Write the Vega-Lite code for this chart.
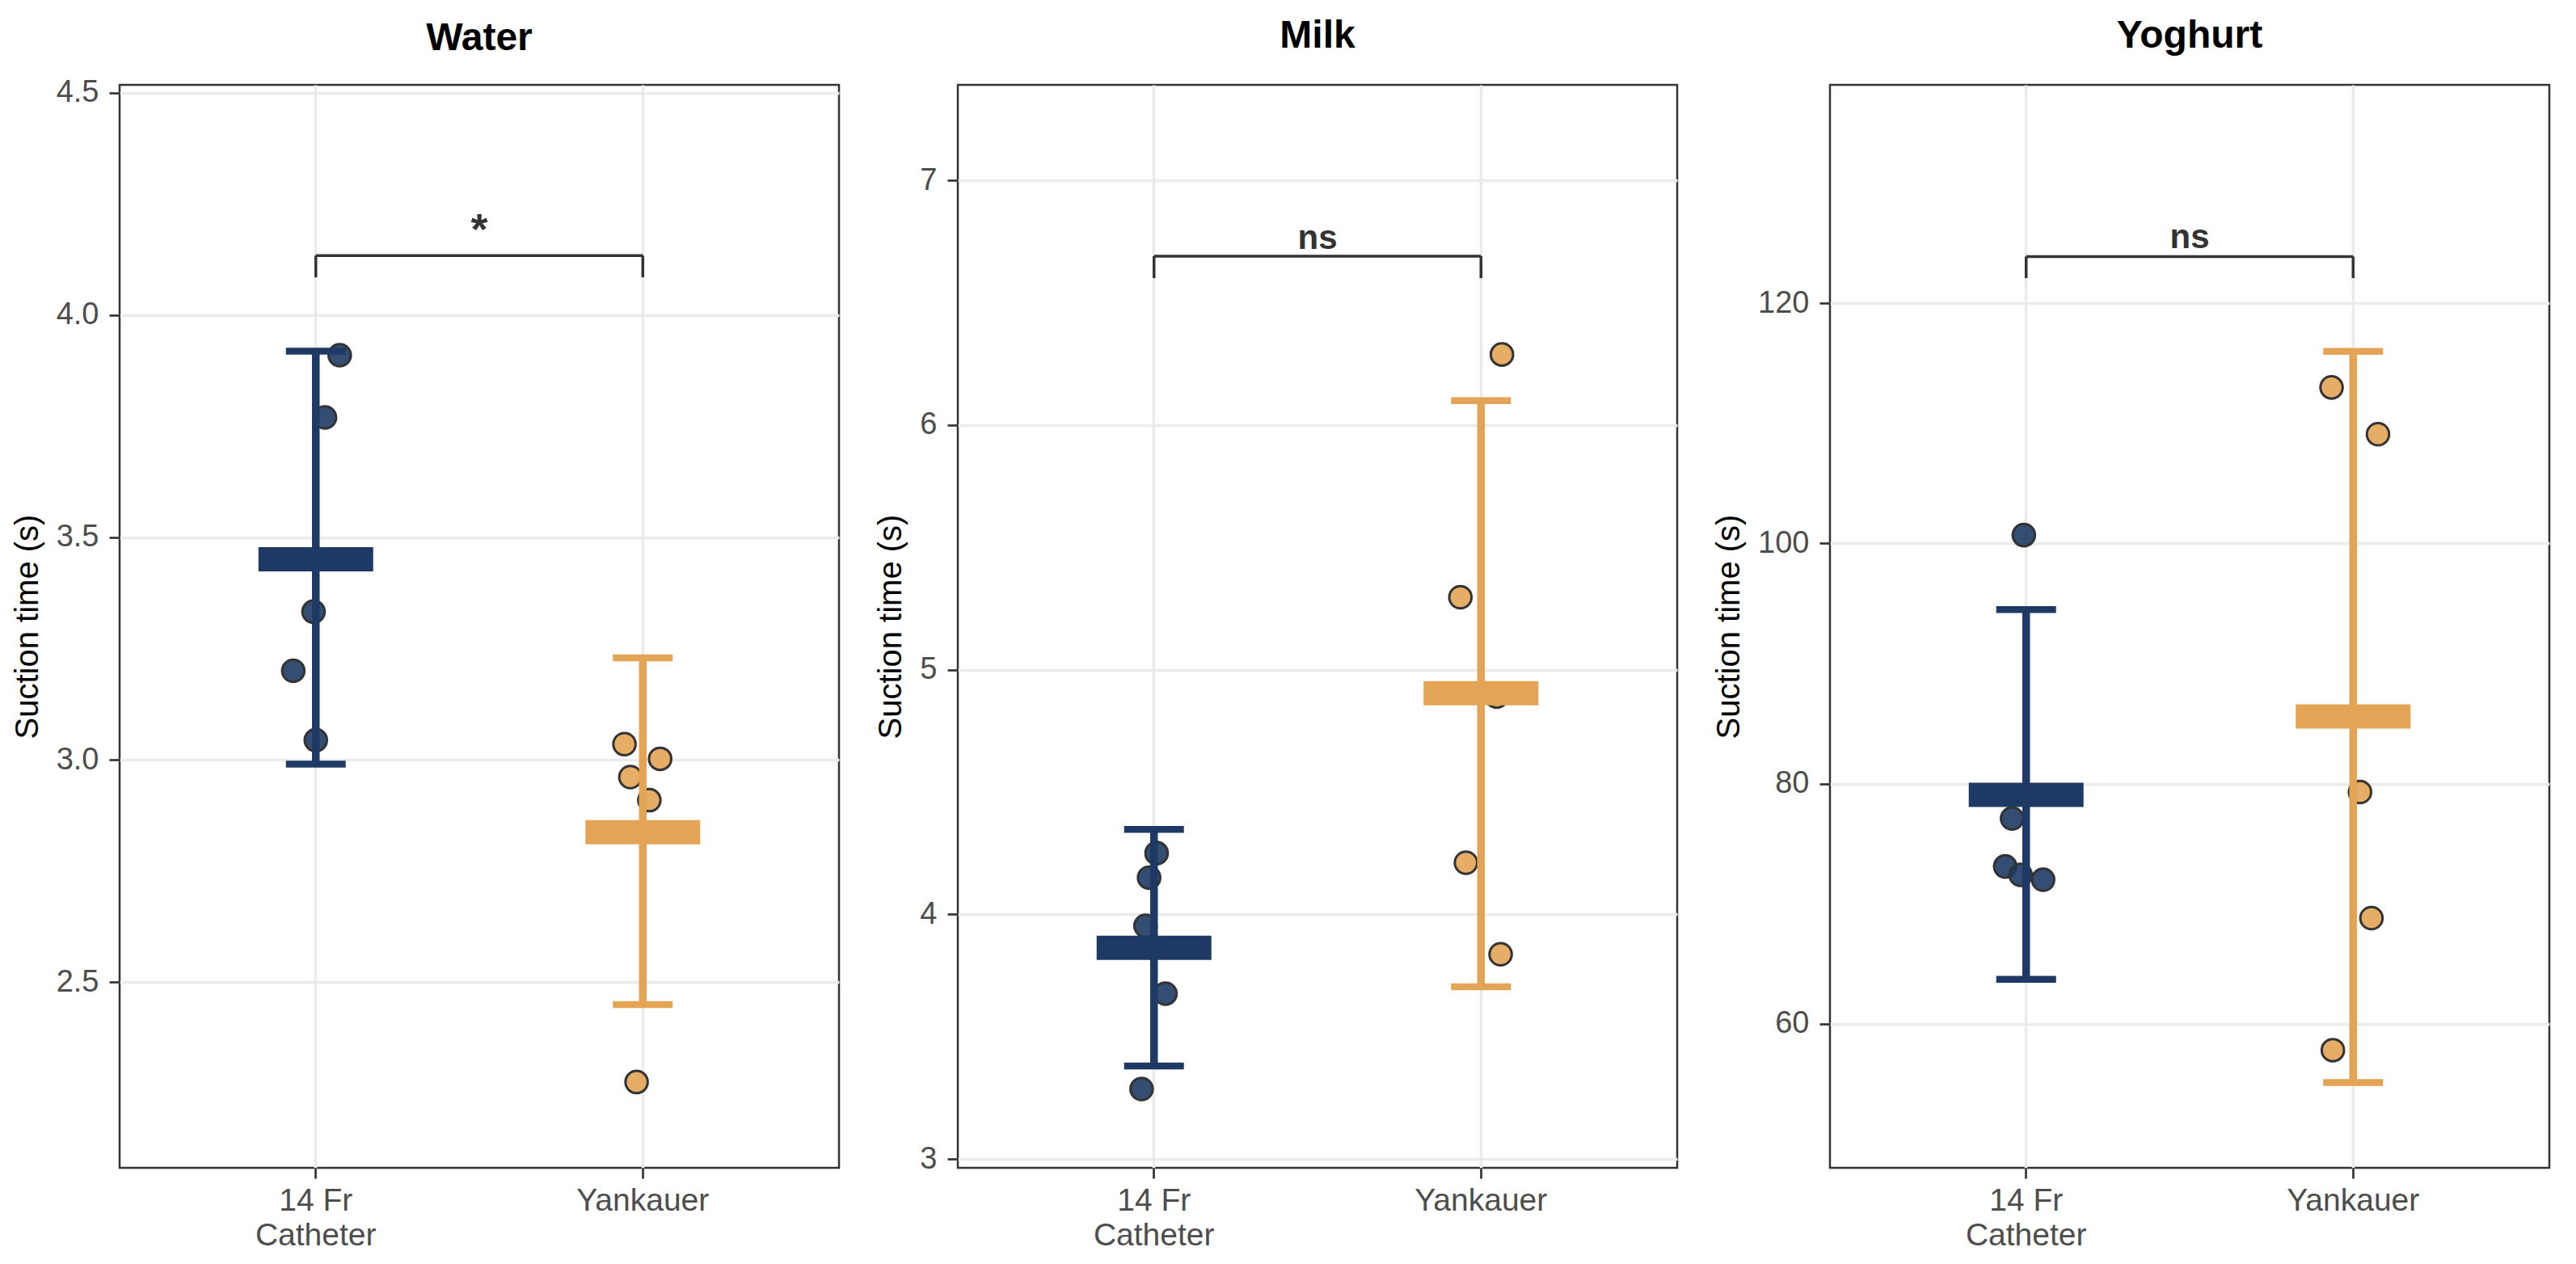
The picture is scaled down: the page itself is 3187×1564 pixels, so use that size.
{
  "$schema": "https://vega.github.io/schema/vega-lite/v6.json",
  "background": "white",
  "padding": {"left": 12, "top": 19, "right": 32, "bottom": 5},
  "spacing": 41,
  "config": {
    "view": {"stroke": "#333333", "strokeWidth": 2.5},
    "font": "Liberation Sans",
    "title": {"fontSize": 48, "fontWeight": "bold", "color": "#000000", "anchor": "middle", "baseline": "alphabetic", "offset": 36, "frame": "group"},
    "axis": {
      "domain": false,
      "tickColor": "#333333", "tickWidth": 2.7, "tickSize": 13,
      "labelColor": "#4D4D4D", "labelFontSize": 38, "labelFont": "Liberation Sans",
      "titleFontSize": 40, "titleFontWeight": "normal", "titleColor": "#000000", "titleFont": "Liberation Sans",
      "gridColor": "#EBEBEB", "gridWidth": 3.5, "grid": true
    },
    "axisX": {"labelPadding": 8, "labelLineHeight": 43, "labelFontSize": 39, "labelAngle": 0, "bandPosition": 0.5},
    "axisY": {"labelPadding": 13, "titlePadding": 15}
  },
  "datasets": {
    "points": [
      {"panel": "Water", "device": "14 Fr Catheter", "value": 3.91, "jitter": 0.073},
      {"panel": "Water", "device": "14 Fr Catheter", "value": 3.77, "jitter": 0.028},
      {"panel": "Water", "device": "14 Fr Catheter", "value": 3.333, "jitter": -0.007},
      {"panel": "Water", "device": "14 Fr Catheter", "value": 3.2, "jitter": -0.069},
      {"panel": "Water", "device": "14 Fr Catheter", "value": 3.044, "jitter": 0.0},
      {"panel": "Water", "device": "Yankauer", "value": 3.035, "jitter": -0.056},
      {"panel": "Water", "device": "Yankauer", "value": 3.002, "jitter": 0.053},
      {"panel": "Water", "device": "Yankauer", "value": 2.961, "jitter": -0.038},
      {"panel": "Water", "device": "Yankauer", "value": 2.909, "jitter": 0.02},
      {"panel": "Water", "device": "Yankauer", "value": 2.275, "jitter": -0.019},
      {"panel": "Milk", "device": "14 Fr Catheter", "value": 4.25, "jitter": 0.008},
      {"panel": "Milk", "device": "14 Fr Catheter", "value": 4.15, "jitter": -0.015},
      {"panel": "Milk", "device": "14 Fr Catheter", "value": 3.953, "jitter": -0.026},
      {"panel": "Milk", "device": "14 Fr Catheter", "value": 3.676, "jitter": 0.035},
      {"panel": "Milk", "device": "14 Fr Catheter", "value": 3.286, "jitter": -0.038},
      {"panel": "Milk", "device": "Yankauer", "value": 6.288, "jitter": 0.064},
      {"panel": "Milk", "device": "Yankauer", "value": 5.296, "jitter": -0.063},
      {"panel": "Milk", "device": "Yankauer", "value": 4.89, "jitter": 0.048},
      {"panel": "Milk", "device": "Yankauer", "value": 4.211, "jitter": -0.046},
      {"panel": "Milk", "device": "Yankauer", "value": 3.837, "jitter": 0.06},
      {"panel": "Yoghurt", "device": "14 Fr Catheter", "value": 100.7, "jitter": -0.007},
      {"panel": "Yoghurt", "device": "14 Fr Catheter", "value": 77.1, "jitter": -0.043},
      {"panel": "Yoghurt", "device": "14 Fr Catheter", "value": 73.1, "jitter": -0.064},
      {"panel": "Yoghurt", "device": "14 Fr Catheter", "value": 72.4, "jitter": -0.017},
      {"panel": "Yoghurt", "device": "14 Fr Catheter", "value": 72.0, "jitter": 0.052},
      {"panel": "Yoghurt", "device": "Yankauer", "value": 113.0, "jitter": -0.066},
      {"panel": "Yoghurt", "device": "Yankauer", "value": 109.1, "jitter": 0.076},
      {"panel": "Yoghurt", "device": "Yankauer", "value": 79.3, "jitter": 0.021},
      {"panel": "Yoghurt", "device": "Yankauer", "value": 68.8, "jitter": 0.056},
      {"panel": "Yoghurt", "device": "Yankauer", "value": 57.8, "jitter": -0.062}
    ],
    "summary": [
      {"panel": "Water", "device": "14 Fr Catheter", "mean": 3.451, "lo": 2.99, "hi": 3.919},
      {"panel": "Water", "device": "Yankauer", "mean": 2.837, "lo": 2.449, "hi": 3.229},
      {"panel": "Milk", "device": "14 Fr Catheter", "mean": 3.863, "lo": 3.38, "hi": 4.347},
      {"panel": "Milk", "device": "Yankauer", "mean": 4.904, "lo": 3.704, "hi": 6.099},
      {"panel": "Yoghurt", "device": "14 Fr Catheter", "mean": 79.06, "lo": 63.7, "hi": 94.5},
      {"panel": "Yoghurt", "device": "Yankauer", "mean": 85.6, "lo": 55.1, "hi": 116.0}
    ],
    "brackets": [
      {"panel": "Water", "from": "14 Fr Catheter", "to": "Yankauer", "top": 4.134, "label": "*", "labelY": 4.16},
      {"panel": "Milk", "from": "14 Fr Catheter", "to": "Yankauer", "top": 6.69, "label": "ns", "labelY": 6.72},
      {"panel": "Yoghurt", "from": "14 Fr Catheter", "to": "Yankauer", "top": 123.9, "label": "ns", "labelY": 124.6}
    ],
    "tips": [
      {"panel": "Water", "device": "14 Fr Catheter", "top": 4.134, "tip": 4.085},
      {"panel": "Water", "device": "Yankauer", "top": 4.134, "tip": 4.085},
      {"panel": "Milk", "device": "14 Fr Catheter", "top": 6.69, "tip": 6.60},
      {"panel": "Milk", "device": "Yankauer", "top": 6.69, "tip": 6.60},
      {"panel": "Yoghurt", "device": "14 Fr Catheter", "top": 123.9, "tip": 122.1},
      {"panel": "Yoghurt", "device": "Yankauer", "top": 123.9, "tip": 122.1}
    ]
  },
  "hconcat": [
    {
      "title": {"text": "Water", "offset": 24},
      "width": 890, "height": 1340,
      "encoding": {
        "x": {"field": "device", "type": "nominal", "title": null,
              "scale": {"type": "band", "paddingInner": 0, "paddingOuter": 0.1, "domain": ["14 Fr Catheter", "Yankauer"]},
              "axis": {"labelExpr": "datum.value == '14 Fr Catheter' ? ['14 Fr', 'Catheter'] : datum.value"}},
        "color": {"field": "device", "type": "nominal", "legend": null,
                  "scale": {"domain": ["14 Fr Catheter", "Yankauer"], "range": ["#1E3A64", "#E3A455"]}}
      },
      "layer": [
        {
          "data": {"name": "points"},
          "transform": [{"filter": "datum.panel == 'Water'"}],
          "mark": {"type": "point", "filled": true, "size": 760, "stroke": "#333333", "strokeWidth": 3, "opacity": 1, "fillOpacity": 0.9},
          "encoding": {
            "xOffset": {"field": "jitter", "type": "quantitative", "scale": {"domain": [-0.5, 0.5]}},
            "y": {"field": "value", "type": "quantitative", "title": "Suction time (s)",
                  "scale": {"domain": [2.082, 4.518], "nice": false, "zero": false},
                  "axis": {"values": [2.5, 3.0, 3.5, 4.0, 4.5], "format": ".1f"}}
          }
        },
        {
          "data": {"name": "summary"},
          "transform": [{"filter": "datum.panel == 'Water'"}],
          "mark": {"type": "rule", "strokeWidth": 9.5, "opacity": 1},
          "encoding": {"y": {"field": "lo", "type": "quantitative"}, "y2": {"field": "hi"}}
        },
        {
          "data": {"name": "summary"},
          "transform": [{"filter": "datum.panel == 'Water'"}],
          "mark": {"type": "tick", "orient": "horizontal", "size": 74, "thickness": 8.5, "opacity": 1},
          "encoding": {"y": {"field": "lo", "type": "quantitative"}}
        },
        {
          "data": {"name": "summary"},
          "transform": [{"filter": "datum.panel == 'Water'"}],
          "mark": {"type": "tick", "orient": "horizontal", "size": 74, "thickness": 8.5, "opacity": 1},
          "encoding": {"y": {"field": "hi", "type": "quantitative"}}
        },
        {
          "data": {"name": "summary"},
          "transform": [{"filter": "datum.panel == 'Water'"}],
          "mark": {"type": "tick", "orient": "horizontal", "size": 142, "thickness": 30, "opacity": 1},
          "encoding": {"y": {"field": "mean", "type": "quantitative"}}
        },
        {
          "data": {"name": "brackets"},
          "transform": [{"filter": "datum.panel == 'Water'"}],
          "mark": {"type": "rule", "strokeWidth": 3.5},
          "encoding": {"x": {"field": "from", "type": "nominal"}, "x2": {"field": "to"}, "y": {"field": "top", "type": "quantitative"}, "color": {"value": "#333333"}}
        },
        {
          "data": {"name": "tips"},
          "transform": [{"filter": "datum.panel == 'Water'"}],
          "mark": {"type": "rule", "strokeWidth": 3.5},
          "encoding": {"y": {"field": "top", "type": "quantitative"}, "y2": {"field": "tip"}, "color": {"value": "#333333"}}
        },
        {
          "data": {"name": "brackets"},
          "transform": [{"filter": "datum.panel == 'Water'"}],
          "mark": {"type": "text", "fontWeight": "bold", "baseline": "alphabetic", "align": "center"},
          "encoding": {"x": {"field": "from", "type": "nominal"}, "xOffset": {"datum": 0.5, "type": "quantitative"},
                       "y": {"field": "labelY", "type": "quantitative"}, "text": {"field": "label"}, "color": {"value": "#333333"},
                       "size": {"condition": {"test": "datum.label == '*'", "value": 54}, "value": 42}}
        }
      ]
    },
    {
      "title": "Milk",
      "width": 890, "height": 1340,
      "encoding": {
        "x": {"field": "device", "type": "nominal", "title": null,
              "scale": {"type": "band", "paddingInner": 0, "paddingOuter": 0.1, "domain": ["14 Fr Catheter", "Yankauer"]},
              "axis": {"labelExpr": "datum.value == '14 Fr Catheter' ? ['14 Fr', 'Catheter'] : datum.value"}},
        "color": {"field": "device", "type": "nominal", "legend": null,
                  "scale": {"domain": ["14 Fr Catheter", "Yankauer"], "range": ["#1E3A64", "#E3A455"]}}
      },
      "layer": [
        {
          "data": {"name": "points"},
          "transform": [{"filter": "datum.panel == 'Milk'"}],
          "mark": {"type": "point", "filled": true, "size": 760, "stroke": "#333333", "strokeWidth": 3, "opacity": 1, "fillOpacity": 0.9},
          "encoding": {
            "xOffset": {"field": "jitter", "type": "quantitative", "scale": {"domain": [-0.5, 0.5]}},
            "y": {"field": "value", "type": "quantitative", "title": "Suction time (s)",
                  "scale": {"domain": [2.964, 7.39], "nice": false, "zero": false},
                  "axis": {"values": [3, 4, 5, 6, 7], "format": "d"}}
          }
        },
        {
          "data": {"name": "summary"},
          "transform": [{"filter": "datum.panel == 'Milk'"}],
          "mark": {"type": "rule", "strokeWidth": 9.5, "opacity": 1},
          "encoding": {"y": {"field": "lo", "type": "quantitative"}, "y2": {"field": "hi"}}
        },
        {
          "data": {"name": "summary"},
          "transform": [{"filter": "datum.panel == 'Milk'"}],
          "mark": {"type": "tick", "orient": "horizontal", "size": 74, "thickness": 8.5, "opacity": 1},
          "encoding": {"y": {"field": "lo", "type": "quantitative"}}
        },
        {
          "data": {"name": "summary"},
          "transform": [{"filter": "datum.panel == 'Milk'"}],
          "mark": {"type": "tick", "orient": "horizontal", "size": 74, "thickness": 8.5, "opacity": 1},
          "encoding": {"y": {"field": "hi", "type": "quantitative"}}
        },
        {
          "data": {"name": "summary"},
          "transform": [{"filter": "datum.panel == 'Milk'"}],
          "mark": {"type": "tick", "orient": "horizontal", "size": 142, "thickness": 30, "opacity": 1},
          "encoding": {"y": {"field": "mean", "type": "quantitative"}}
        },
        {
          "data": {"name": "brackets"},
          "transform": [{"filter": "datum.panel == 'Milk'"}],
          "mark": {"type": "rule", "strokeWidth": 3.5},
          "encoding": {"x": {"field": "from", "type": "nominal"}, "x2": {"field": "to"}, "y": {"field": "top", "type": "quantitative"}, "color": {"value": "#333333"}}
        },
        {
          "data": {"name": "tips"},
          "transform": [{"filter": "datum.panel == 'Milk'"}],
          "mark": {"type": "rule", "strokeWidth": 3.5},
          "encoding": {"y": {"field": "top", "type": "quantitative"}, "y2": {"field": "tip"}, "color": {"value": "#333333"}}
        },
        {
          "data": {"name": "brackets"},
          "transform": [{"filter": "datum.panel == 'Milk'"}],
          "mark": {"type": "text", "fontWeight": "bold", "baseline": "alphabetic", "align": "center"},
          "encoding": {"x": {"field": "from", "type": "nominal"}, "xOffset": {"datum": 0.5, "type": "quantitative"},
                       "y": {"field": "labelY", "type": "quantitative"}, "text": {"field": "label"}, "color": {"value": "#333333"},
                       "size": {"condition": {"test": "datum.label == '*'", "value": 54}, "value": 42}}
        }
      ]
    },
    {
      "title": "Yoghurt",
      "width": 890, "height": 1340,
      "encoding": {
        "x": {"field": "device", "type": "nominal", "title": null,
              "scale": {"type": "band", "paddingInner": 0, "paddingOuter": 0.1, "domain": ["14 Fr Catheter", "Yankauer"]},
              "axis": {"labelExpr": "datum.value == '14 Fr Catheter' ? ['14 Fr', 'Catheter'] : datum.value"}},
        "color": {"field": "device", "type": "nominal", "legend": null,
                  "scale": {"domain": ["14 Fr Catheter", "Yankauer"], "range": ["#1E3A64", "#E3A455"]}}
      },
      "layer": [
        {
          "data": {"name": "points"},
          "transform": [{"filter": "datum.panel == 'Yoghurt'"}],
          "mark": {"type": "point", "filled": true, "size": 760, "stroke": "#333333", "strokeWidth": 3, "opacity": 1, "fillOpacity": 0.9},
          "encoding": {
            "xOffset": {"field": "jitter", "type": "quantitative", "scale": {"domain": [-0.5, 0.5]}},
            "y": {"field": "value", "type": "quantitative", "title": "Suction time (s)",
                  "scale": {"domain": [48.0, 138.2], "nice": false, "zero": false},
                  "axis": {"values": [60, 80, 100, 120], "format": "d"}}
          }
        },
        {
          "data": {"name": "summary"},
          "transform": [{"filter": "datum.panel == 'Yoghurt'"}],
          "mark": {"type": "rule", "strokeWidth": 9.5, "opacity": 1},
          "encoding": {"y": {"field": "lo", "type": "quantitative"}, "y2": {"field": "hi"}}
        },
        {
          "data": {"name": "summary"},
          "transform": [{"filter": "datum.panel == 'Yoghurt'"}],
          "mark": {"type": "tick", "orient": "horizontal", "size": 74, "thickness": 8.5, "opacity": 1},
          "encoding": {"y": {"field": "lo", "type": "quantitative"}}
        },
        {
          "data": {"name": "summary"},
          "transform": [{"filter": "datum.panel == 'Yoghurt'"}],
          "mark": {"type": "tick", "orient": "horizontal", "size": 74, "thickness": 8.5, "opacity": 1},
          "encoding": {"y": {"field": "hi", "type": "quantitative"}}
        },
        {
          "data": {"name": "summary"},
          "transform": [{"filter": "datum.panel == 'Yoghurt'"}],
          "mark": {"type": "tick", "orient": "horizontal", "size": 142, "thickness": 30, "opacity": 1},
          "encoding": {"y": {"field": "mean", "type": "quantitative"}}
        },
        {
          "data": {"name": "brackets"},
          "transform": [{"filter": "datum.panel == 'Yoghurt'"}],
          "mark": {"type": "rule", "strokeWidth": 3.5},
          "encoding": {"x": {"field": "from", "type": "nominal"}, "x2": {"field": "to"}, "y": {"field": "top", "type": "quantitative"}, "color": {"value": "#333333"}}
        },
        {
          "data": {"name": "tips"},
          "transform": [{"filter": "datum.panel == 'Yoghurt'"}],
          "mark": {"type": "rule", "strokeWidth": 3.5},
          "encoding": {"y": {"field": "top", "type": "quantitative"}, "y2": {"field": "tip"}, "color": {"value": "#333333"}}
        },
        {
          "data": {"name": "brackets"},
          "transform": [{"filter": "datum.panel == 'Yoghurt'"}],
          "mark": {"type": "text", "fontWeight": "bold", "baseline": "alphabetic", "align": "center"},
          "encoding": {"x": {"field": "from", "type": "nominal"}, "xOffset": {"datum": 0.5, "type": "quantitative"},
                       "y": {"field": "labelY", "type": "quantitative"}, "text": {"field": "label"}, "color": {"value": "#333333"},
                       "size": {"condition": {"test": "datum.label == '*'", "value": 54}, "value": 42}}
        }
      ]
    }
  ]
}
